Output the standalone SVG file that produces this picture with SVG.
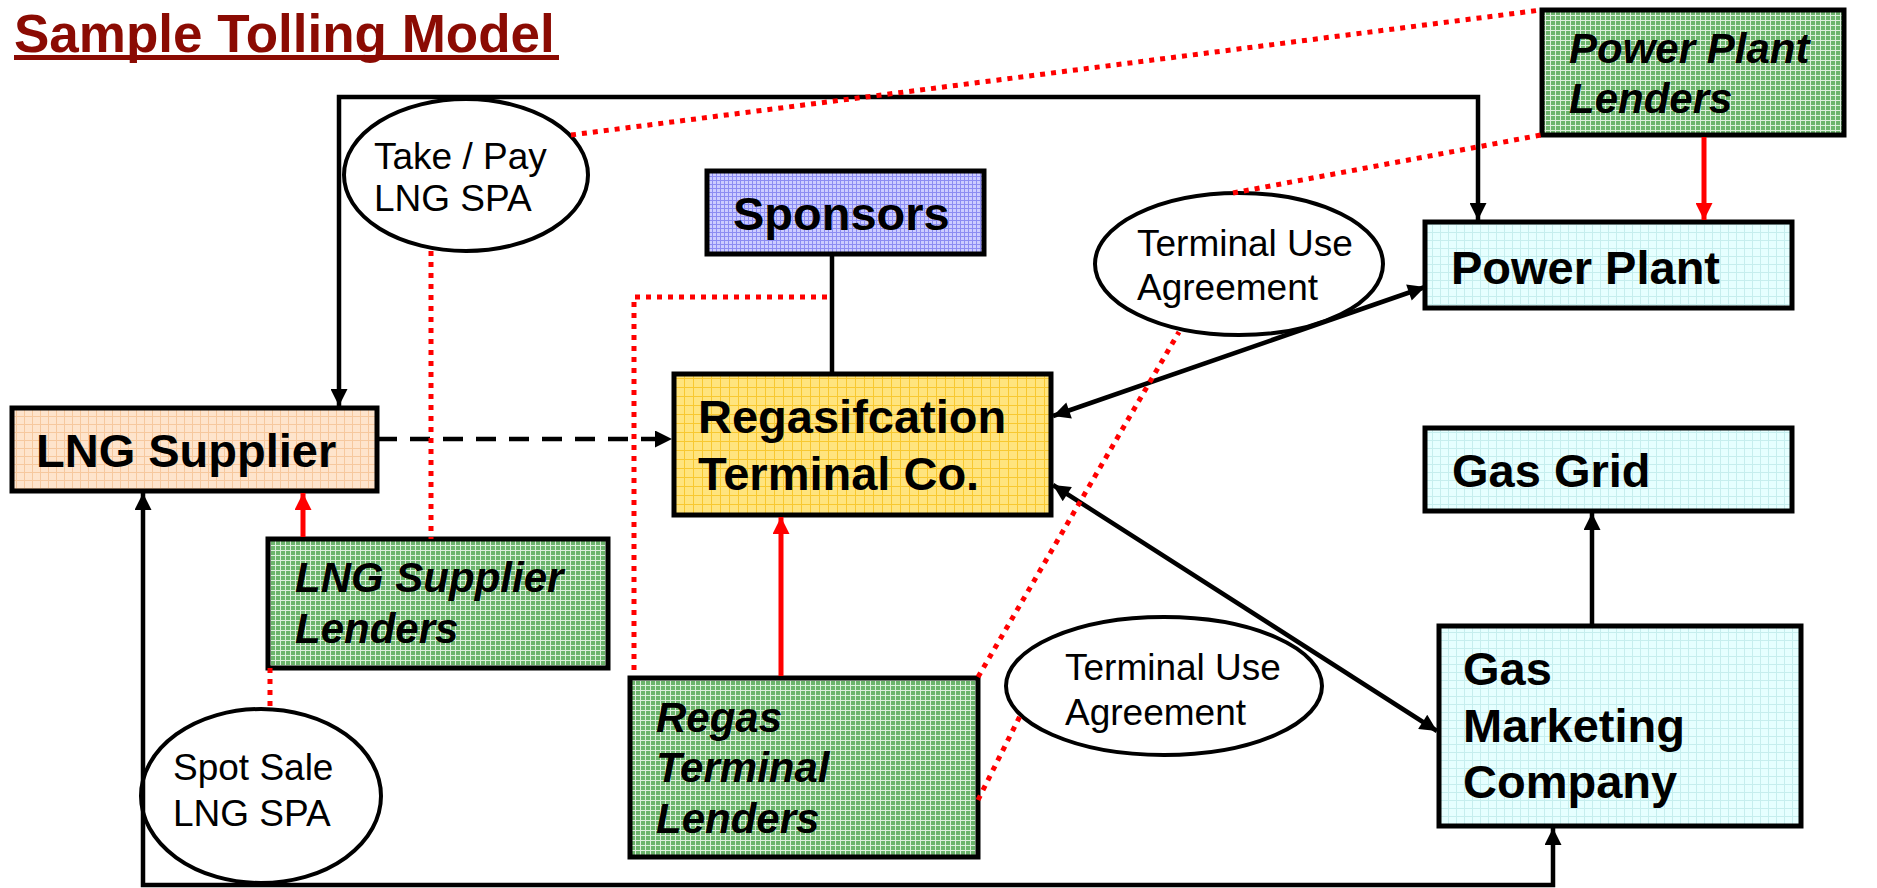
<svg xmlns="http://www.w3.org/2000/svg" width="1877" height="888" viewBox="0 0 1877 888">
<style>
.box{stroke:#000;stroke-width:5}
.t{font-family:"Liberation Sans",Arial,sans-serif;font-weight:bold;font-size:47px;fill:#000}
.ti{font-style:italic;font-size:42px}
.el{fill:#fff;stroke:#000;stroke-width:4}
.et{font-family:"Liberation Sans",Arial,sans-serif;font-size:37px;fill:#000}
.blk{fill:none;stroke:#000;stroke-width:4.5}
.dash{stroke-dasharray:20 13}
.red{fill:none;stroke:#f00;stroke-width:5}
.dot{stroke-dasharray:5 6}
.title{font-family:"Liberation Sans",Arial,sans-serif;font-weight:bold;font-size:53px;fill:#8B0B03}
</style>
<defs>
<pattern id="pGreen" width="5" height="5" patternUnits="userSpaceOnUse"><rect width="5" height="5" fill="#6cb46c"/><path d="M0 .5H5M.5 0V5" stroke="#dcefdc" stroke-width="1"/></pattern>
<pattern id="pYellow" width="9" height="9" patternUnits="userSpaceOnUse"><rect width="9" height="9" fill="#FFE47E"/><path d="M0 .5H9M.5 0V9" stroke="#F8C830" stroke-width="1"/></pattern>
<pattern id="pPeach" width="8" height="8" patternUnits="userSpaceOnUse"><rect width="8" height="8" fill="#FEE4CC"/><path d="M0 .5H8M.5 0V8" stroke="#F6C89E" stroke-width="1"/></pattern>
<pattern id="pBlue" width="4" height="4" patternUnits="userSpaceOnUse"><rect width="4" height="4" fill="#CCCCFF"/><path d="M0 .5H4M.5 0V4" stroke="#8C8CF2" stroke-width="1"/></pattern>
<pattern id="pCyan" width="8" height="8" patternUnits="userSpaceOnUse"><rect width="8" height="8" fill="#E6FFFF"/><path d="M0 .5H8M.5 0V8" stroke="#C6EEEE" stroke-width="1"/></pattern>
<marker id="ab" viewBox="0 0 10 10" refX="10" refY="5" markerWidth="19" markerHeight="17" markerUnits="userSpaceOnUse" orient="auto-start-reverse"><path d="M0,0 L10,5 L0,10z" fill="#000"/></marker>
<marker id="ar" viewBox="0 0 10 10" refX="10" refY="5" markerWidth="19" markerHeight="17" markerUnits="userSpaceOnUse" orient="auto-start-reverse"><path d="M0,0 L10,5 L0,10z" fill="#f00"/></marker>
</defs>
<rect width="1877" height="888" fill="#fff"/>
<g id="title"><text class="title" x="14" y="52">Sample Tolling Model</text><rect x="14" y="55" width="545" height="5" fill="#8B0B03"/></g>

<g id="ellipse-takepay"><ellipse class="el" cx="466" cy="175" rx="122" ry="76"/><text class="et" x="374" y="169">Take / Pay</text><text class="et" x="374" y="211">LNG SPA</text></g>
<g id="ellipse-spot"><ellipse class="el" cx="261" cy="796" rx="120" ry="87"/><text class="et" x="173" y="780">Spot Sale</text><text class="et" x="173" y="826">LNG SPA</text></g>
<g id="ellipse-tua1"><ellipse class="el" cx="1239" cy="264" rx="144" ry="71"/><text class="et" x="1137" y="256">Terminal Use</text><text class="et" x="1137" y="300">Agreement</text></g>
<g id="ellipse-tua2"><ellipse class="el" cx="1164" cy="686" rx="158" ry="69"/><text class="et" x="1065" y="680">Terminal Use</text><text class="et" x="1065" y="725">Agreement</text></g>

<g id="ppl"><rect class="box" x="1542" y="10" width="302" height="125" fill="url(#pGreen)"/><text class="t ti" x="1569" y="63">Power Plant</text><text class="t ti" x="1569" y="113">Lenders</text></g>
<g id="pp"><rect class="box" x="1425" y="222" width="367" height="86" fill="url(#pCyan)"/><text class="t" x="1451" y="284">Power Plant</text></g>
<g id="gg"><rect class="box" x="1425" y="428" width="367" height="83" fill="url(#pCyan)"/><text class="t" x="1452" y="487">Gas Grid</text></g>
<g id="gmc"><rect class="box" x="1439" y="626" width="362" height="200" fill="url(#pCyan)"/><text class="t" x="1463" y="685">Gas</text><text class="t" x="1463" y="742">Marketing</text><text class="t" x="1463" y="798">Company</text></g>
<g id="sponsors"><rect class="box" x="707" y="171" width="277" height="83" fill="url(#pBlue)"/><text class="t" x="733" y="230">Sponsors</text></g>
<g id="regas"><rect class="box" x="674" y="374" width="377" height="141" fill="url(#pYellow)"/><text class="t" x="698" y="433">Regasifcation</text><text class="t" x="698" y="490">Terminal Co.</text></g>
<g id="lng"><rect class="box" x="12" y="408" width="365" height="83" fill="url(#pPeach)"/><text class="t" x="36" y="467">LNG Supplier</text></g>
<g id="lngl"><rect class="box" x="268" y="539" width="340" height="129" fill="url(#pGreen)"/><text class="t ti" x="295" y="592">LNG Supplier</text><text class="t ti" x="295" y="643">Lenders</text></g>
<g id="rtl"><rect class="box" x="630" y="678" width="348" height="179" fill="url(#pGreen)"/><text class="t ti" x="656" y="732">Regas</text><text class="t ti" x="656" y="782">Terminal</text><text class="t ti" x="656" y="833">Lenders</text></g>

<g id="connectors">
<path class="blk" d="M339,406 V97 H1478 V220" marker-start="url(#ab)" marker-end="url(#ab)"/>
<path class="blk dash" d="M377,439 H672" marker-end="url(#ab)"/>
<path class="blk" d="M832,254 V374"/>
<path class="blk" d="M1053,416 L1425,287" marker-start="url(#ab)" marker-end="url(#ab)"/>
<path class="blk" d="M1053,485 L1437,731" marker-start="url(#ab)" marker-end="url(#ab)"/>
<path class="blk" d="M1592,625 V513" marker-end="url(#ab)"/>
<path class="blk" d="M143,493 V885 H1553 V828" marker-start="url(#ab)" marker-end="url(#ab)"/>
<path class="red" d="M303,537 V493" marker-end="url(#ar)"/>
<path class="red" d="M781,676 V517" marker-end="url(#ar)"/>
<path class="red" d="M1704,137 V220" marker-end="url(#ar)"/>
<path class="red dot" d="M571,135 L1541,10"/>
<path class="red dot" d="M431,251 V539"/>
<path class="red dot" d="M634,670 V297 H832"/>
<path class="red dot" d="M270,668 V709"/>
<path class="red dot" d="M978,677 L1179,332"/>
<path class="red dot" d="M978,800 L1020,716"/>
<path class="red dot" d="M1233,193 L1541,135"/>
</g>
</svg>
